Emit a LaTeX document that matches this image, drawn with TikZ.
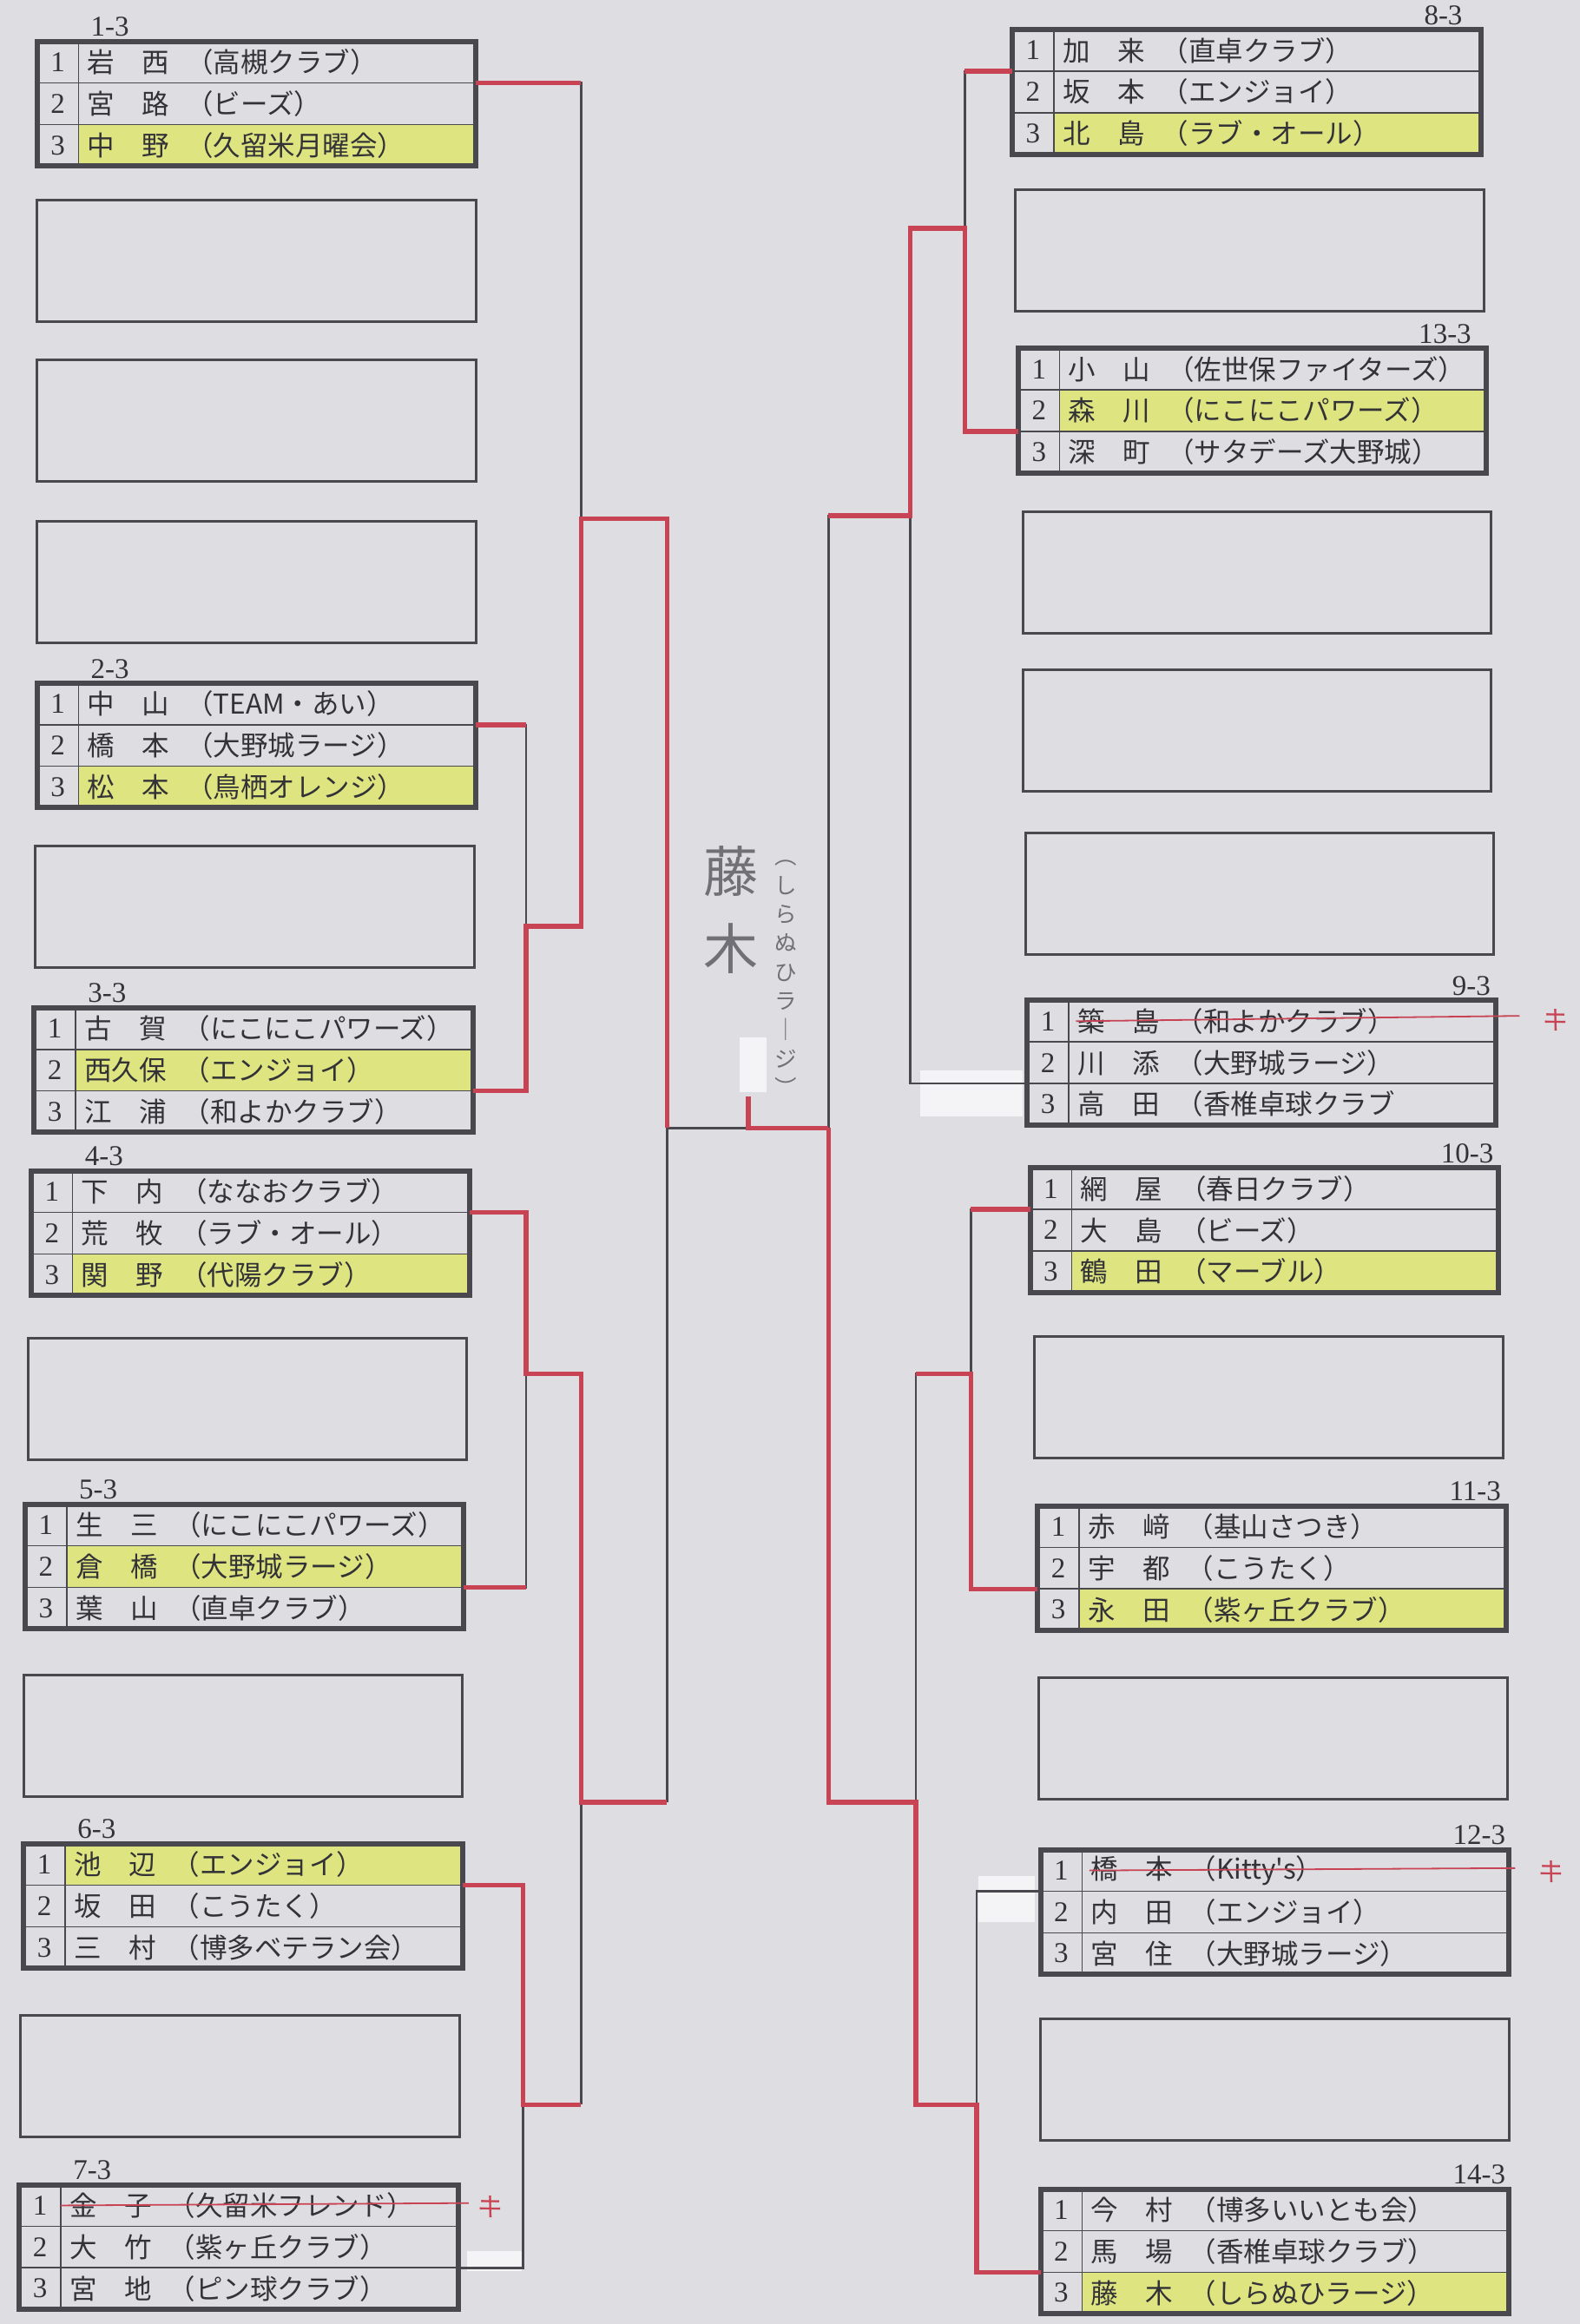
\documentclass[tikz,border=0pt]{standalone}
\usepackage{fontspec}
\setmainfont{Liberation Serif}
\newfontfamily\jp{Noto Sans CJK JP}
\usetikzlibrary{positioning}
\definecolor{paper}{RGB}{222,222,226}
\definecolor{ink}{RGB}{50,50,55}
\definecolor{boxline}{RGB}{72,72,78}
\definecolor{redpen}{RGB}{200,68,84}
\definecolor{hl}{RGB}{222,228,128}
\definecolor{handgray}{RGB}{112,112,118}
\definecolor{tapewhite}{RGB}{244,244,246}

\begin{document}
\begin{tikzpicture}[x=0.2mm,y=-0.2mm]
\tikzset{nc/.style={draw=boxline, line width=0.5pt, minimum width=5.6mm, minimum height=5.6mm, inner sep=0pt, outer sep=0pt, text=ink, font=\fontsize{11}{11}\selectfont},
  tcl/.style={draw=boxline, line width=0.5pt, minimum height=5.6mm, text width=51.2mm, inner xsep=1.2mm, inner ysep=0pt, outer sep=0pt, align=left, text=ink, font=\jp\fontsize{10.5}{10.5}\selectfont},
  tcr/.style={tcl, text width=55.2mm},
  gframe/.style={draw=boxline, line width=2pt},
  eboxl/.style={draw=boxline, line width=1pt, anchor=north west, minimum width=59.2mm, minimum height=16.4mm, inner sep=0pt, outer sep=0pt},
  eboxr/.style={eboxl, minimum width=63.2mm},
  glbl/.style={inner sep=0pt, text=ink, font=\fontsize{11}{11}\selectfont},
  brk/.style={draw=boxline, line width=0.9pt},
  win/.style={draw=redpen, line width=1.8pt},
  strk/.style={draw=redpen, line width=0.6pt},
  kimark/.style={text=redpen, font=\jp\fontsize{10}{10}\selectfont, rotate=-10},
  hand/.style={text=handgray, align=center, font=\jp\fontsize{21}{29.6}\selectfont},
  handv/.style={text=handgray, align=center, font=\jp\fontsize{8.5}{11.1}\selectfont},
  patch/.style={fill=tapewhite}}
\useasboundingbox (0,0) rectangle (1066,1568);
\fill[paper] (0,0) rectangle (1066,1568);

% correction tape
\fill[patch] (315,1519) rectangle (352,1532);
\fill[patch] (499,700) rectangle (517,737);
\fill[patch] (621,722) rectangle (690,753);
\fill[patch] (660,1266) rectangle (698,1297);

% empty boxes, left
\node[eboxl] (el2) at (25,135) {};
\node[eboxl] (el3) at (25,243) {};
\node[eboxl] (el4) at (25,352) {};
\node[eboxl] (el6) at (24,571) {};
\node[eboxl] (el9) at (19,903) {};
\node[eboxl] (el11) at (16,1130) {};
\node[eboxl] (el13) at (14,1360) {};
% empty boxes, right
\node[eboxr] (er2) at (685,128) {};
\node[eboxr] (er4) at (690,345) {};
\node[eboxr] (er5) at (690,452) {};
\node[eboxr] (er6) at (692,562) {};
\node[eboxr] (er9) at (698,902) {};
\node[eboxr] (er11) at (701,1132) {};
\node[eboxr] (er13) at (702,1362) {};

% 1-3
\node[glbl, anchor=south west] (t1) at (61,25) {1-3};
\node[nc, anchor=north west] (g1n1) at (25,28) {1};
\node[tcl, right=0pt of g1n1] (g1t1) {岩　西\hspace{.6em}（高槻クラブ）};
\node[nc, below=0pt of g1n1] (g1n2) {2};
\node[tcl, right=0pt of g1n2] (g1t2) {宮　路\hspace{.6em}（ビーズ）};
\node[nc, below=0pt of g1n2] (g1n3) {3};
\node[tcl, fill=hl, right=0pt of g1n3] (g1t3) {中　野\hspace{.6em}（久留米月曜会）};
\draw[gframe] (g1n1.north west) rectangle (g1t3.south east);

% 2-3
\node[glbl, anchor=south west] (t2) at (61,458) {2-3};
\node[nc, anchor=north west] (g2n1) at (25,461) {1};
\node[tcl, right=0pt of g2n1] (g2t1) {中　山\hspace{.6em}（TEAM・あい）};
\node[nc, below=0pt of g2n1] (g2n2) {2};
\node[tcl, right=0pt of g2n2] (g2t2) {橋　本\hspace{.6em}（大野城ラージ）};
\node[nc, below=0pt of g2n2] (g2n3) {3};
\node[tcl, fill=hl, right=0pt of g2n3] (g2t3) {松　本\hspace{.6em}（鳥栖オレンジ）};
\draw[gframe] (g2n1.north west) rectangle (g2t3.south east);

% 3-3
\node[glbl, anchor=south west] (t3) at (59,677) {3-3};
\node[nc, anchor=north west] (g3n1) at (23,680) {1};
\node[tcl, right=0pt of g3n1] (g3t1) {古　賀\hspace{.6em}（にこにこパワーズ）};
\node[nc, below=0pt of g3n1] (g3n2) {2};
\node[tcl, fill=hl, right=0pt of g3n2] (g3t2) {西久保\hspace{.6em}（エンジョイ）};
\node[nc, below=0pt of g3n2] (g3n3) {3};
\node[tcl, right=0pt of g3n3] (g3t3) {江　浦\hspace{.6em}（和よかクラブ）};
\draw[gframe] (g3n1.north west) rectangle (g3t3.south east);

% 4-3
\node[glbl, anchor=south west] (t4) at (57,787) {4-3};
\node[nc, anchor=north west] (g4n1) at (21,790) {1};
\node[tcl, right=0pt of g4n1] (g4t1) {下　内\hspace{.6em}（ななおクラブ）};
\node[nc, below=0pt of g4n1] (g4n2) {2};
\node[tcl, right=0pt of g4n2] (g4t2) {荒　牧\hspace{.6em}（ラブ・オール）};
\node[nc, below=0pt of g4n2] (g4n3) {3};
\node[tcl, fill=hl, right=0pt of g4n3] (g4t3) {関　野\hspace{.6em}（代陽クラブ）};
\draw[gframe] (g4n1.north west) rectangle (g4t3.south east);

% 5-3
\node[glbl, anchor=south west] (t5) at (53,1012) {5-3};
\node[nc, anchor=north west] (g5n1) at (17,1015) {1};
\node[tcl, right=0pt of g5n1] (g5t1) {生　三\hspace{.6em}（にこにこパワーズ）};
\node[nc, below=0pt of g5n1] (g5n2) {2};
\node[tcl, fill=hl, right=0pt of g5n2] (g5t2) {倉　橋\hspace{.6em}（大野城ラージ）};
\node[nc, below=0pt of g5n2] (g5n3) {3};
\node[tcl, right=0pt of g5n3] (g5t3) {葉　山\hspace{.6em}（直卓クラブ）};
\draw[gframe] (g5n1.north west) rectangle (g5t3.south east);

% 6-3
\node[glbl, anchor=south west] (t6) at (52,1241) {6-3};
\node[nc, anchor=north west] (g6n1) at (16,1244) {1};
\node[tcl, fill=hl, right=0pt of g6n1] (g6t1) {池　辺\hspace{.6em}（エンジョイ）};
\node[nc, below=0pt of g6n1] (g6n2) {2};
\node[tcl, right=0pt of g6n2] (g6t2) {坂　田\hspace{.6em}（こうたく）};
\node[nc, below=0pt of g6n2] (g6n3) {3};
\node[tcl, right=0pt of g6n3] (g6t3) {三　村\hspace{.6em}（博多ベテラン会）};
\draw[gframe] (g6n1.north west) rectangle (g6t3.south east);

% 7-3
\node[glbl, anchor=south west] (t7) at (49,1471) {7-3};
\node[nc, anchor=north west] (g7n1) at (13,1474) {1};
\node[tcl, right=0pt of g7n1] (g7t1) {金　子\hspace{.6em}（久留米フレンド）};
\node[nc, below=0pt of g7n1] (g7n2) {2};
\node[tcl, right=0pt of g7n2] (g7t2) {大　竹\hspace{.6em}（紫ヶ丘クラブ）};
\node[nc, below=0pt of g7n2] (g7n3) {3};
\node[tcl, right=0pt of g7n3] (g7t3) {宮　地\hspace{.6em}（ピン球クラブ）};
\draw[gframe] (g7n1.north west) rectangle (g7t3.south east);

% 8-3
\node[glbl, anchor=south east] (t8) at (987,17) {8-3};
\node[nc, anchor=north west] (g8n1) at (683,20) {1};
\node[tcr, right=0pt of g8n1] (g8t1) {加　来\hspace{.6em}（直卓クラブ）};
\node[nc, below=0pt of g8n1] (g8n2) {2};
\node[tcr, right=0pt of g8n2] (g8t2) {坂　本\hspace{.6em}（エンジョイ）};
\node[nc, below=0pt of g8n2] (g8n3) {3};
\node[tcr, fill=hl, right=0pt of g8n3] (g8t3) {北　島\hspace{.6em}（ラブ・オール）};
\draw[gframe] (g8n1.north west) rectangle (g8t3.south east);

% 13-3
\node[glbl, anchor=south east] (t13) at (993,232) {13-3};
\node[nc, anchor=north west] (g13n1) at (687,235) {1};
\node[tcr, right=0pt of g13n1] (g13t1) {小　山\hspace{.6em}（佐世保ファイターズ）};
\node[nc, below=0pt of g13n1] (g13n2) {2};
\node[tcr, fill=hl, right=0pt of g13n2] (g13t2) {森　川\hspace{.6em}（にこにこパワーズ）};
\node[nc, below=0pt of g13n2] (g13n3) {3};
\node[tcr, right=0pt of g13n3] (g13t3) {深　町\hspace{.6em}（サタデーズ大野城）};
\draw[gframe] (g13n1.north west) rectangle (g13t3.south east);

% 9-3
\node[glbl, anchor=south east] (t9) at (1006,672) {9-3};
\node[nc, anchor=north west] (g9n1) at (693,675) {1};
\node[tcr, right=0pt of g9n1] (g9t1) {築　島\hspace{.6em}（和よかクラブ）};
\node[nc, below=0pt of g9n1] (g9n2) {2};
\node[tcr, right=0pt of g9n2] (g9t2) {川　添\hspace{.6em}（大野城ラージ）};
\node[nc, below=0pt of g9n2] (g9n3) {3};
\node[tcr, right=0pt of g9n3] (g9t3) {高　田\hspace{.6em}（香椎卓球クラブ};
\draw[gframe] (g9n1.north west) rectangle (g9t3.south east);

% 10-3
\node[glbl, anchor=south east] (t10) at (1008,785) {10-3};
\node[nc, anchor=north west] (g10n1) at (695,788) {1};
\node[tcr, right=0pt of g10n1] (g10t1) {網　屋\hspace{.6em}（春日クラブ）};
\node[nc, below=0pt of g10n1] (g10n2) {2};
\node[tcr, right=0pt of g10n2] (g10t2) {大　島\hspace{.6em}（ビーズ）};
\node[nc, below=0pt of g10n2] (g10n3) {3};
\node[tcr, fill=hl, right=0pt of g10n3] (g10t3) {鶴　田\hspace{.6em}（マーブル）};
\draw[gframe] (g10n1.north west) rectangle (g10t3.south east);

% 11-3
\node[glbl, anchor=south east] (t11) at (1013,1013) {11-3};
\node[nc, anchor=north west] (g11n1) at (700,1016) {1};
\node[tcr, right=0pt of g11n1] (g11t1) {赤　﨑\hspace{.6em}（基山さつき）};
\node[nc, below=0pt of g11n1] (g11n2) {2};
\node[tcr, right=0pt of g11n2] (g11t2) {宇　都\hspace{.6em}（こうたく）};
\node[nc, below=0pt of g11n2] (g11n3) {3};
\node[tcr, fill=hl, right=0pt of g11n3] (g11t3) {永　田\hspace{.6em}（紫ヶ丘クラブ）};
\draw[gframe] (g11n1.north west) rectangle (g11t3.south east);

% 12-3
\node[glbl, anchor=south east] (t12) at (1016,1245) {12-3};
\node[nc, anchor=north west] (g12n1) at (702,1248) {1};
\node[tcr, right=0pt of g12n1] (g12t1) {橋　本\hspace{.6em}（Kitty's）};
\node[nc, below=0pt of g12n1] (g12n2) {2};
\node[tcr, right=0pt of g12n2] (g12t2) {内　田\hspace{.6em}（エンジョイ）};
\node[nc, below=0pt of g12n2] (g12n3) {3};
\node[tcr, right=0pt of g12n3] (g12t3) {宮　住\hspace{.6em}（大野城ラージ）};
\draw[gframe] (g12n1.north west) rectangle (g12t3.south east);

% 14-3
\node[glbl, anchor=south east] (t14) at (1016,1474) {14-3};
\node[nc, anchor=north west] (g14n1) at (702,1477) {1};
\node[tcr, right=0pt of g14n1] (g14t1) {今　村\hspace{.6em}（博多いいとも会）};
\node[nc, below=0pt of g14n1] (g14n2) {2};
\node[tcr, right=0pt of g14n2] (g14t2) {馬　場\hspace{.6em}（香椎卓球クラブ）};
\node[nc, below=0pt of g14n2] (g14n3) {3};
\node[tcr, fill=hl, right=0pt of g14n3] (g14t3) {藤　木\hspace{.6em}（しらぬひラージ）};
\draw[gframe] (g14n1.north west) rectangle (g14t3.south east);

% bracket joints
\coordinate (la1) at (392,350);
\coordinate (la2) at (355,625);
\coordinate (la3) at (355,927);
\coordinate (la4) at (392,1216);
\coordinate (la5) at (353,1420);
\coordinate (lf) at (450,761);
\coordinate (ra1) at (651,154);
\coordinate (ra2) at (614,348);
\coordinate (ra3) at (655,927);
\coordinate (ra5) at (618,1216);
\coordinate (ra4) at (659,1420);
\coordinate (rf) at (559,761);
\coordinate (cw) at (505,740);

% printed bracket
\draw[brk] (g1t1.south east) -| (la1) -- (la2 -| la1);
\draw[brk] (g2t1.south east) -| (la2) |- (g3t2.south east);
\draw[brk] (la2) -- (la2 -| la1);
\draw[brk] (la1) -- (la1 -| lf) -- (la4 -| lf);
\draw[brk] (g4t1.south east) -| (la3) |- (g5t2.south east);
\draw[brk] (la3) -- (la3 -| la4) -- (la5 -| la4);
\draw[brk] (g6t1.south east) -| (la5) |- (g7t2.south east);
\draw[brk] (la5) -- (la5 -| la4);
\draw[brk] (la4) -- (la4 -| lf);
\draw[brk] (lf) -- (rf);
\draw[brk] (g8n1.south west) -| (ra1) -- (ra1 -| ra2);
\draw[brk] (g13n2.south west) -| (ra1);
\draw[brk] (ra1 -| ra2) |- (g9n2.south west);
\draw[brk] (ra2) -- (ra2 -| rf) -- (ra5 -| rf);
\draw[brk] (g10n1.south west) -| (ra3) |- (g11n2.south west);
\draw[brk] (ra3) -- (ra3 -| ra5) -- (ra4 -| ra5);
\draw[brk] (g12n1.south west) -| (ra4) |- (g14n2.south west);
\draw[brk] (ra4) -- (ra4 -| ra5);
\draw[brk] (ra5) -- (ra5 -| rf);

% red pen
\draw[win] (g1t1.south east) -- (g1t1.south east -| la1);
\draw[win] (g2t1.south east) -- (g2t1.south east -| la2);
\draw[win] (g3t2.south east) -- (g3t2.south east -| la2) -- (la2) -- (la2 -| la1) -- (la1) -- (la1 -| lf) -- (lf);
\draw[win] (g4t1.south east) -- (g4t1.south east -| la3) -- (la3) -- (la3 -| la4) -- (la4) -- (la4 -| lf);
\draw[win] (g5t2.south east) -- (g5t2.south east -| la3);
\draw[win] (g6t1.south east) -- (g6t1.south east -| la5) -- (la5) -- (la5 -| la4);
\draw[win] (g8n1.south west) -- (g8n1.south west -| ra1);
\draw[win] (g13n2.south west) -- (g13n2.south west -| ra1) -- (ra1) -- (ra1 -| ra2) -- (ra2) -- (ra2 -| rf);
\draw[win] (g10n1.south west) -- (g10n1.south west -| ra3);
\draw[win] (g11n2.south west) -- (g11n2.south west -| ra3) -- (ra3) -- (ra3 -| ra5);
\draw[win] (g14n2.south west) -- (g14n2.south west -| ra4) -- (ra4) -- (ra4 -| ra5) -- (ra5) -- (ra5 -| rf) -- (rf);
\draw[win] (cw) -- (cw |- lf) -- (rf);

% withdrawals
\node[kimark] (k7) at (331,1489) {キ};
\node[kimark] (k9) at (1050,688) {キ};
\node[kimark] (k12) at (1047,1263) {キ};
\draw[strk] (g7t1.west) -- (k7.west);
\draw[strk] ([xshift=1mm]g9t1.west) -- ([xshift=-2mm]k9.west);
\draw[strk] ([xshift=1mm]g12t1.west) -- ([xshift=-2mm]k12.west);

% champion
\node[hand] (champ) at (493,614) {藤\\木};
\node[handv] (champteam) at (530,660) {︵\\し\\ら\\ぬ\\ひ\\ラ\\｜\\ジ\\︶};
\end{tikzpicture}
\end{document}
